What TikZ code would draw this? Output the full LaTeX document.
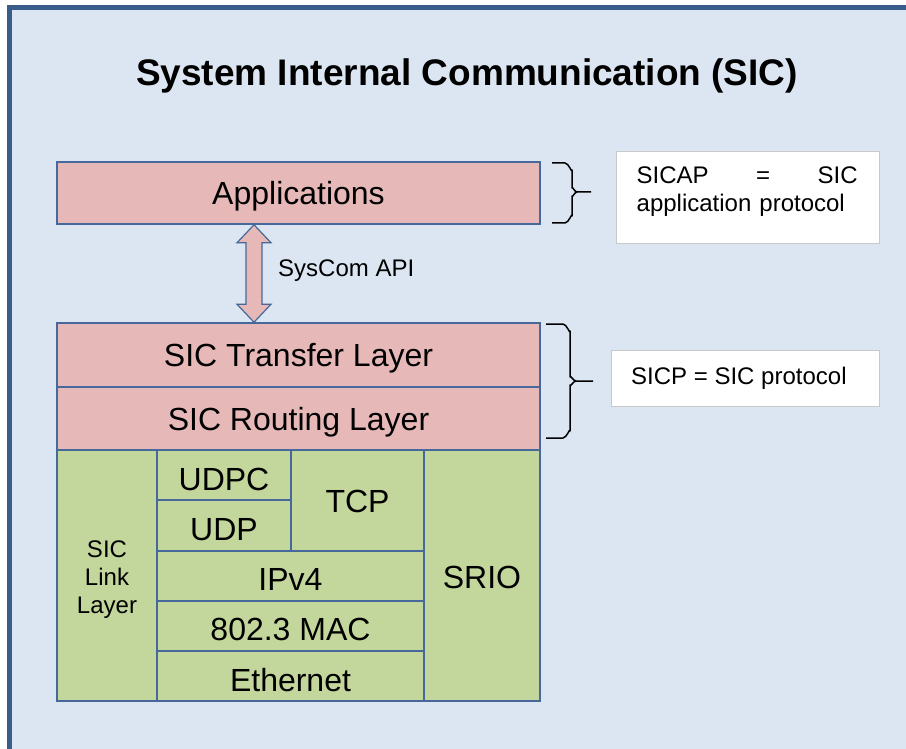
\documentclass[tikz,border=0pt]{standalone}
\usepackage{fontspec}
\setmainfont{Liberation Sans}
\definecolor{bgblue}{HTML}{DCE6F2}
\definecolor{framedark}{HTML}{395D8A}
\definecolor{edgeblue}{HTML}{46689A}
\definecolor{pinkfill}{HTML}{E6B9B8}
\definecolor{greenfill}{HTML}{C3D69B}
\definecolor{infoedge}{HTML}{C8C8C8}
\tikzset{
  layerbox/.style={draw=edgeblue, line width=1.5pt, inner sep=0pt, align=center,
    font=\fontsize{32}{38}\selectfont, text height=23pt, text depth=0pt},
  pinkbox/.style={layerbox, fill=pinkfill},
  greenbox/.style={layerbox, fill=greenfill},
  % labels that sit a little below the middle of their cell
  lowtext/.style={text height=30pt},
  midtext/.style={text height=28pt},
  slighttext/.style={text height=26pt},
  smalltext/.style={font=\fontsize{24}{28}\selectfont},
  capcentered/.style={text height=17.2pt, text depth=0pt},
  infobox/.style={draw=infoedge, line width=1pt, fill=white, inner sep=0pt},
  bracepath/.style={draw=black, line width=1.5pt, line join=round},
  apiarrow/.style={draw=edgeblue, line width=1.2pt, fill=pinkfill, line join=miter}
}
\begin{document}
\begin{tikzpicture}[x=1pt, y=-1pt]
  \useasboundingbox (0,0) rectangle (906,749);
  % page background and frame
  \fill[white] (0,0) rectangle (906,749);
  \draw[framedark, line width=5pt, fill=bgblue] (9.5,8) -- (915,8) -- (915,760) -- (9.5,760) -- cycle;
  \draw[framedark, line width=5pt] (9.5,760) -- (9.5,8) -- (915,8);

  % title
  \node[font=\fontsize{37}{44}\selectfont\bfseries, text height=26.5pt, text depth=0pt] (title) at (467,72) {System Internal Communication (SIC)};

  % upper SIC layers
  \node[pinkbox, minimum width=483pt, minimum height=62pt] (app) at (298.5,193) {Applications};
  \node[pinkbox, minimum width=483pt, minimum height=64pt] (transfer) at (298.5,355) {SIC Transfer Layer};
  \node[pinkbox, minimum width=483pt, minimum height=63pt] (routing) at (298.5,418.5) {SIC Routing Layer};

  % link layer stack
  \node[greenbox, minimum width=100pt, minimum height=251pt,
    label={[smalltext, align=center, yshift=-4pt]center:SIC\\Link\\Layer}] (link) at (107,575.5) {};
  \node[greenbox, lowtext, minimum width=134pt, minimum height=50pt] (udpc) at (224,475) {UDPC};
  \node[greenbox, lowtext, minimum width=134pt, minimum height=51pt] (udp) at (224,525.5) {UDP};
  \node[greenbox, minimum width=133pt, minimum height=101pt] (tcp) at (357.5,500.5) {TCP};
  \node[greenbox, midtext, minimum width=267pt, minimum height=50pt] (ipv4) at (290.5,576) {IPv4};
  \node[greenbox, midtext, minimum width=267pt, minimum height=50pt] (mac) at (290.5,626) {802.3 MAC};
  \node[greenbox, lowtext, minimum width=267pt, minimum height=50pt] (eth) at (290.5,676) {Ethernet};
  \node[greenbox, slighttext, minimum width=116pt, minimum height=251pt] (srio) at (482,575.5) {SRIO};

  % SysCom API double arrow between the application and transfer layers
  \coordinate (atop) at (app.south -| 254,0);
  \coordinate (abot) at (transfer.north -| 254,0);
  \draw[apiarrow] (atop) -- ++(17,18) -- ++(-9,0) |- ([xshift=8pt, yshift=18pt]abot)
    -- ++(9,0) -- (abot) -- ++(-17,-18) -- ++(9,0) -- ([xshift=-8pt, yshift=-18pt]atop)
    -- ++(-9,0) -- cycle;
  \node[smalltext, capcentered, anchor=west, inner sep=0pt] (api) at (278,268) {SysCom API};

  % braces
  \draw[bracepath] (552,163) -- (565,163) to[out=0, in=-90] (572,170) -- (572,188)
    to[out=90, in=180] (577,192) -- (591,192);
  \draw[bracepath] (577,192) to[out=180, in=-90] (572,196) -- (572,216)
    to[out=90, in=0] (565,223) -- (552,223);
  \draw[bracepath] (546,324) -- (563,324) to[out=0, in=-90] (570,331) -- (570,377)
    to[out=90, in=180] (576,381) -- (593,381);
  \draw[bracepath] (576,381) to[out=180, in=-90] (570,385) -- (570,431)
    to[out=90, in=0] (563,438) -- (546,438);

  % protocol notes
  \node[infobox, minimum width=263pt, minimum height=92pt] (sicap) at (747.5,198) {};
  \node[smalltext, anchor=north west, text width=221pt, inner sep=0pt, align=left]
    (sicaptext) at ([xshift=21pt, yshift=-15pt]sicap.north west)
    {SICAP\hfill=\hfill SIC\\application protocol};
  \node[infobox, minimum width=268pt, minimum height=56pt] (sicp) at (745,378) {};
  \node[smalltext, capcentered, anchor=west, inner sep=0pt] (sicptext) at (631,376) {SICP = SIC protocol};
\end{tikzpicture}
\end{document}
